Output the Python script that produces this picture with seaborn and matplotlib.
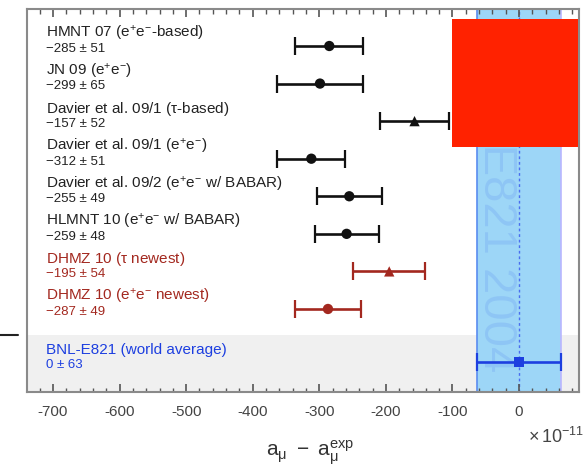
import numpy as np
import pandas as pd
import matplotlib
matplotlib.use("Agg")
import matplotlib.pyplot as plt
from matplotlib.patches import Rectangle
from matplotlib.lines import Line2D
import seaborn as sns

# ---- data ----
titles = [r"HMNT 07 (e$^{+}$e$^{-}$-based)",
          r"JN 09 (e$^{+}$e$^{-}$)",
          r"Davier et al. 09/1 ($\tau$-based)",
          r"Davier et al. 09/1 (e$^{+}$e$^{-}$)",
          r"Davier et al. 09/2 (e$^{+}$e$^{-}$ w/ BABAR)",
          r"HLMNT 10 (e$^{+}$e$^{-}$ w/ BABAR)",
          r"DHMZ 10 ($\tau$ newest)",
          r"DHMZ 10 (e$^{+}$e$^{-}$ newest)",
          "BNL-E821 (world average)"]
values = [-285, -299, -157, -312, -255, -259, -195, -287, 0]
errors = [51, 65, 52, 51, 49, 48, 54, 49, 63]
kinds = ["ee", "ee", "tau", "ee", "ee", "ee", "tau", "ee", "exp"]
groups = ["old", "old", "old", "old", "old", "old", "new", "new", "exp"]
xticks = [-700, -600, -500, -400, -300, -200, -100, 0]

sns.set_style("ticks")
plt.rcParams['font.family'] = ['Liberation Sans', 'DejaVu Sans']
plt.rcParams['mathtext.fontset'] = 'custom'
plt.rcParams['mathtext.rm'] = 'Liberation Sans'
plt.rcParams['mathtext.it'] = 'Liberation Sans:italic'
plt.rcParams['mathtext.default'] = 'regular'
plt.rcParams['axes.unicode_minus'] = False

row_y = [0, 1, 2, 3, 4, 5, 6, 7, 8.41]
df = pd.DataFrame({"title": titles, "value": values, "err": errors,
                   "kind": kinds, "group": groups, "y": row_y})

colors = {"old": "#111111", "new": "#a3281f", "exp": "#1d3fe0"}
markers = {"ee": "o", "tau": "^", "exp": "s"}

XLIM = (-739, 90)
YLIM = (9.21, -0.985)
POS = [27/585, 1-393/477, (579-27)/585, (393-10)/477]

fig = plt.figure(figsize=(5.85, 4.77), dpi=100)
ax = fig.add_axes(POS)

# grey band for experiment row
ax.fill_between(XLIM, 7.69, YLIM[0], color="#f0f0f0", zorder=0, lw=0)
# experimental band
exp = df[df.group == "exp"].iloc[0]
lo, hi = exp.value - exp.err, exp.value + exp.err
ax.fill_betweenx(YLIM, lo, hi, color="#9dd6f7", zorder=1, lw=0)
ax.plot([lo, lo], YLIM, color="#5a8cf0", lw=1.2, zorder=1.5)
ax.plot([hi, hi], YLIM, color="#b9b6ff", lw=1.2, zorder=1.5)
ax.plot([exp.value, exp.value], YLIM, color="#4a6ef0", lw=1.0, ls=(0, (2, 2)), zorder=1.6)
ax.text(-35, -0.3, "BNL-E821 2004", rotation=-90, ha="center", va="top",
        fontsize=34, color="#8cc3f5", alpha=0.85, zorder=1.7)

for _, r in df.iterrows():
    ax.errorbar(r.value, r.y, xerr=r.err, fmt="none", ecolor=colors[r.group],
                elinewidth=1.9, capsize=6.5, capthick=1.6, zorder=3)

sns.scatterplot(data=df, x="value", y="y", hue="group", style="kind",
                palette=colors, markers=markers, s=55, edgecolor="none",
                legend=False, ax=ax, zorder=4)

for _, r in df.iterrows():
    c = colors[r.group] if r.group != "old" else "#222222"
    ax.text(-711, r.y - 0.35, r.title, fontsize=11, color=c, ha="left", va="center")
    ax.text(-711, r.y + 0.05, f"{'−' if r.value < 0 else ''}{abs(r.value)} ± {r.err}",
            fontsize=9.5, color=c, ha="left", va="center")

ax.set_xlabel("")
ax.set_ylabel("")
ax.set_xlim(*XLIM)
ax.set_ylim(*YLIM)
ax.set_xticks(xticks)
ax.set_xticklabels([str(t) for t in xticks])
ax.set_yticks([])
ax.tick_params(axis="x", which="both", length=0, labelcolor="#444444",
               labelsize=11, pad=9)
for s in ax.spines.values():
    s.set_color("#8a8a8a")
    s.set_linewidth(1.5)
    s.set_zorder(6)

# inward tick marks on top and bottom, drawn as short lines in axis-fraction height
major = np.array(xticks)
minor = np.array([v for v in range(-720, 81, 20) if v not in xticks and XLIM[0] < v < XLIM[1]])
tr = ax.get_xaxis_transform()
maj_len, min_len = 8/383, 4.5/383
ax.vlines(major, 0, maj_len, transform=tr, colors="#555555", lw=1.2, zorder=5, clip_on=False)
ax.vlines(major, 1 - maj_len, 1, transform=tr, colors="#555555", lw=1.2, zorder=5, clip_on=False)
ax.vlines(minor, 0, min_len, transform=tr, colors="#555555", lw=1.0, zorder=5, clip_on=False)
ax.vlines(minor, 1 - min_len, 1, transform=tr, colors="#555555", lw=1.0, zorder=5, clip_on=False)

fig.text(310/585, 1-453/477, r"$a_{\mu}\ -\ a_{\mu}^{exp}$", fontsize=15,
         ha="center", va="center", color="#333333")
fig.text(528/585, 1-437/477, r"$\times\,10^{-11}$", fontsize=13,
         ha="left", va="center", color="#444444")

fig.add_artist(Line2D([0, 18/585], [1-336/477, 1-336/477], color="#222222", lw=1.5))
fig.add_artist(Rectangle((452/585, 1-148/477), 126/585, 128/477,
                         facecolor="#ff2200", edgecolor="none", zorder=10))

fig.savefig("out.png", dpi=100)
